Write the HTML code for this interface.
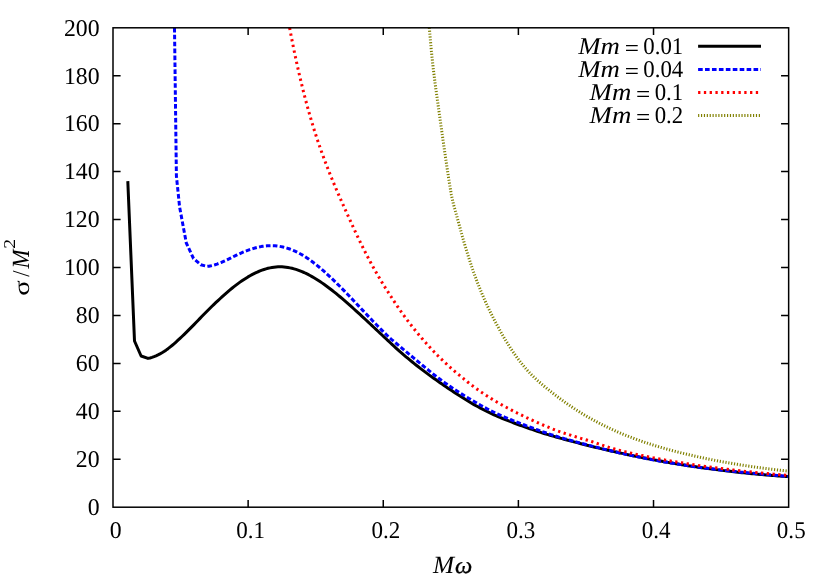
<!DOCTYPE html>
<html><head><meta charset="utf-8"><title>plot</title>
<style>
html,body{margin:0;padding:0;background:#fff;}
svg{display:block;will-change:transform;}
text{font-family:"Liberation Serif",serif;fill:#000;text-rendering:geometricPrecision;}
</style></head><body>
<svg width="830" height="581" viewBox="0 0 830 581">
<rect x="0" y="0" width="830" height="581" fill="#fff"/>
<clipPath id="c"><rect x="113.0" y="27.8" width="675.65" height="479.4"/></clipPath>
<g clip-path="url(#c)" fill="none" stroke-linejoin="round">
<path d="M127.80,181.10 L134.50,341.00 L141.10,356.00 L148.00,358.40 L150.00,357.94 L152.00,357.35 L154.00,356.64 L156.00,355.82 L158.00,354.89 L160.00,353.86 L162.00,352.72 L164.00,351.49 L166.00,350.14 L168.00,348.67 L170.00,347.12 L172.00,345.50 L174.00,343.80 L176.00,342.04 L178.00,340.22 L180.00,338.35 L182.00,336.49 L184.00,334.59 L186.00,332.65 L188.00,330.67 L190.00,328.66 L192.00,326.63 L194.00,324.58 L196.00,322.51 L198.00,320.43 L200.00,318.34 L202.00,316.31 L204.00,314.28 L206.00,312.26 L208.00,310.25 L210.00,308.26 L212.00,306.30 L214.00,304.36 L216.00,302.46 L218.00,300.59 L220.00,298.75 L222.00,296.90 L224.00,295.09 L226.00,293.32 L228.00,291.58 L230.00,289.89 L232.00,288.25 L234.00,286.65 L236.00,285.10 L238.00,283.61 L240.00,282.16 L242.00,280.77 L244.00,279.43 L246.00,278.15 L248.00,276.92 L250.00,275.76 L252.00,274.66 L254.00,273.63 L256.00,272.66 L258.00,271.76 L260.00,270.93 L262.00,270.16 L264.00,269.48 L266.00,268.86 L268.00,268.32 L270.00,267.86 L272.00,267.48 L274.00,267.19 L276.00,266.97 L278.00,266.84 L280.00,266.80 L282.00,266.84 L284.00,266.97 L286.00,267.18 L288.00,267.48 L290.00,267.85 L292.00,268.30 L294.00,268.83 L296.00,269.42 L298.00,270.09 L300.00,270.83 L302.00,271.63 L304.00,272.50 L306.00,273.43 L308.00,274.42 L310.00,275.47 L312.00,276.58 L314.00,277.74 L316.00,278.95 L318.00,280.21 L320.00,281.51 L322.00,282.87 L324.00,284.26 L326.00,285.70 L328.00,287.18 L330.00,288.69 L332.00,290.24 L334.00,291.82 L336.00,293.44 L338.00,295.08 L340.00,296.75 L342.00,298.44 L344.00,300.15 L346.00,301.89 L348.00,303.64 L350.00,305.41 L352.00,307.19 L354.00,308.99 L356.00,310.80 L358.00,312.62 L360.00,314.46 L362.00,316.30 L364.00,318.15 L366.00,320.01 L368.00,321.87 L370.00,323.74 L372.00,325.61 L374.00,327.49 L376.00,329.37 L378.00,331.25 L380.00,333.13 L382.00,335.01 L384.00,336.89 L386.00,338.76 L388.00,340.63 L390.00,342.49 L392.00,344.35 L394.00,346.20 L396.00,348.04 L398.00,349.88 L400.00,351.70 L402.00,353.41 L404.00,355.11 L406.00,356.79 L408.00,358.46 L410.00,360.11 L412.00,361.75 L414.00,363.36 L416.00,364.96 L418.00,366.54 L420.00,368.10 L422.00,369.63 L424.00,371.14 L426.00,372.65 L428.00,374.13 L430.00,375.59 L432.00,377.03 L434.00,378.45 L436.00,379.84 L438.00,381.28 L440.00,382.69 L442.00,384.09 L444.00,385.46 L446.00,386.81 L448.00,388.14 L450.00,389.50 L452.00,390.84 L454.00,392.16 L456.00,393.46 L458.00,394.73 L460.00,395.99 L462.00,397.28 L464.00,398.54 L466.00,399.79 L468.00,401.02 L470.00,402.23 L472.00,403.42 L474.00,404.59 L476.00,405.71 L478.00,406.80 L480.00,407.88 L482.00,408.94 L484.00,409.98 L486.00,411.00 L488.00,411.97 L490.00,412.92 L492.00,413.86 L494.00,414.77 L496.00,415.67 L498.00,416.56 L500.00,417.41 L502.00,418.24 L504.00,419.07 L506.00,419.87 L508.00,420.66 L510.00,421.44 L512.00,422.22 L514.00,422.99 L516.00,423.74 L518.00,424.49 L520.00,425.22 L522.00,425.93 L524.00,426.66 L526.00,427.37 L528.00,428.07 L530.00,428.77 L532.00,429.45 L534.00,430.12 L536.00,430.81 L538.00,431.48 L540.00,432.14 L542.00,432.80 L544.00,433.45 L546.00,434.09 L548.00,434.68 L550.00,435.26 L552.00,435.84 L554.00,436.41 L556.00,436.97 L558.00,437.53 L560.00,438.09 L562.00,438.64 L564.00,439.19 L566.00,439.74 L568.00,440.28 L570.00,440.81 L572.00,441.35 L574.00,441.87 L576.00,442.40 L578.00,442.92 L580.00,443.44 L582.00,443.95 L584.00,444.46 L586.00,444.96 L588.00,445.47 L590.00,445.96 L592.00,446.46 L594.00,446.95 L596.00,447.43 L598.00,447.91 L600.00,448.39 L602.00,448.87 L604.00,449.34 L606.00,449.80 L608.00,450.27 L610.00,450.72 L612.00,451.18 L614.00,451.63 L616.00,452.08 L618.00,452.52 L620.00,452.96 L622.00,453.40 L624.00,453.83 L626.00,454.26 L628.00,454.68 L630.00,455.10 L632.00,455.52 L634.00,455.93 L636.00,456.34 L638.00,456.74 L640.00,457.15 L642.00,457.54 L644.00,457.94 L646.00,458.33 L648.00,458.71 L650.00,459.10 L652.00,459.47 L654.00,459.85 L656.00,460.22 L658.00,460.59 L660.00,460.95 L662.00,461.31 L664.00,461.67 L666.00,462.02 L668.00,462.37 L670.00,462.71 L672.00,463.05 L674.00,463.39 L676.00,463.72 L678.00,464.05 L680.00,464.38 L682.00,464.70 L684.00,465.02 L686.00,465.34 L688.00,465.65 L690.00,465.95 L692.00,466.26 L694.00,466.56 L696.00,466.85 L698.00,467.15 L700.00,467.44 L702.00,467.72 L704.00,468.00 L706.00,468.28 L708.00,468.56 L710.00,468.83 L712.00,469.09 L714.00,469.36 L716.00,469.62 L718.00,469.87 L720.00,470.13 L722.00,470.37 L724.00,470.62 L726.00,470.86 L728.00,471.10 L730.00,471.33 L732.00,471.56 L734.00,471.79 L736.00,472.01 L738.00,472.23 L740.00,472.45 L742.00,472.66 L744.00,472.87 L746.00,473.08 L748.00,473.28 L750.00,473.48 L752.00,473.67 L754.00,473.86 L756.00,474.05 L758.00,474.23 L760.00,474.41 L762.00,474.59 L764.00,474.76 L766.00,474.93 L768.00,475.10 L770.00,475.26 L772.00,475.42 L774.00,475.58 L776.00,475.73 L778.00,475.88 L780.00,476.02 L782.00,476.16 L784.00,476.30 L786.00,476.44 L788.00,476.57 L788.50,476.60" stroke="#000" stroke-width="3.0"/>
<path d="M174.50,27.80 L176.40,176.00 L179.60,207.00 L186.30,243.00 L193.50,258.50 L200.80,264.80 L207.00,266.40 L209.00,266.16 L211.00,265.80 L213.00,265.33 L215.00,264.75 L217.00,264.09 L219.00,263.34 L221.00,262.53 L223.00,261.66 L225.00,260.74 L227.00,259.79 L229.00,258.82 L231.00,257.83 L233.00,256.85 L235.00,255.87 L237.00,254.91 L239.00,253.99 L241.00,253.09 L243.00,252.24 L245.00,251.41 L247.00,250.64 L249.00,249.90 L251.00,249.21 L253.00,248.58 L255.00,247.99 L257.00,247.47 L259.00,247.00 L261.00,246.60 L263.00,246.27 L265.00,246.00 L267.00,245.81 L269.00,245.69 L271.00,245.65 L273.00,245.69 L275.00,245.80 L277.00,245.99 L279.00,246.26 L281.00,246.61 L283.00,247.03 L285.00,247.53 L287.00,248.11 L289.00,248.76 L291.00,249.49 L293.00,250.29 L295.00,251.16 L297.00,252.11 L299.00,253.14 L301.00,254.24 L303.00,255.40 L305.00,256.64 L307.00,257.95 L309.00,259.32 L311.00,260.75 L313.00,262.23 L315.00,263.78 L317.00,265.37 L319.00,267.01 L321.00,268.70 L323.00,270.43 L325.00,272.21 L327.00,274.02 L329.00,275.86 L331.00,277.74 L333.00,279.65 L335.00,281.59 L337.00,283.56 L339.00,285.55 L341.00,287.57 L343.00,289.60 L345.00,291.66 L347.00,293.73 L349.00,295.81 L351.00,297.91 L353.00,300.02 L355.00,302.13 L357.00,304.25 L359.00,306.38 L361.00,308.50 L363.00,310.63 L365.00,312.75 L367.00,314.87 L369.00,316.98 L371.00,319.08 L373.00,321.17 L375.00,323.24 L377.00,325.31 L379.00,327.35 L381.00,329.37 L383.00,331.37 L385.00,333.35 L387.00,335.30 L389.00,337.23 L391.00,339.03 L393.00,340.72 L395.00,342.38 L397.00,344.03 L399.00,345.66 L401.00,347.33 L403.00,349.05 L405.00,350.75 L407.00,352.44 L409.00,354.13 L411.00,355.80 L413.00,357.47 L415.00,359.13 L417.00,360.78 L419.00,362.43 L421.00,364.08 L423.00,365.73 L425.00,367.37 L427.00,369.02 L429.00,370.65 L431.00,372.27 L433.00,373.87 L435.00,375.45 L437.00,377.00 L439.00,378.53 L441.00,380.02 L443.00,381.48 L445.00,382.91 L447.00,384.32 L449.00,385.71 L451.00,387.09 L453.00,388.44 L455.00,389.77 L457.00,391.07 L459.00,392.34 L461.00,393.61 L463.00,394.86 L465.00,396.09 L467.00,397.30 L469.00,398.48 L471.00,399.63 L473.00,400.77 L475.00,401.93 L477.00,403.12 L479.00,404.29 L481.00,405.43 L483.00,406.56 L485.00,407.66 L487.00,408.73 L489.00,409.77 L491.00,410.78 L493.00,411.77 L495.00,412.75 L497.00,413.71 L499.00,414.63 L501.00,415.53 L503.00,416.40 L505.00,417.26 L507.00,418.11 L509.00,418.94 L511.00,419.76 L513.00,420.58 L515.00,421.38 L517.00,422.17 L519.00,422.95 L521.00,423.72 L523.00,424.49 L525.00,425.26 L527.00,426.03 L529.00,426.79 L531.00,427.53 L533.00,428.27 L535.00,429.00 L537.00,429.71 L539.00,430.42 L541.00,431.13 L543.00,431.82 L545.00,432.51 L547.00,433.20 L549.00,433.87 L551.00,434.55 L553.00,435.21 L555.00,435.88 L557.00,436.53 L559.00,437.15 L561.00,437.72 L563.00,438.28 L565.00,438.85 L567.00,439.41 L569.00,439.96 L571.00,440.51 L573.00,441.06 L575.00,441.61 L577.00,442.15 L579.00,442.69 L581.00,443.23 L583.00,443.76 L585.00,444.29 L587.00,444.81 L589.00,445.34 L591.00,445.85 L593.00,446.37 L595.00,446.88 L597.00,447.38 L599.00,447.89 L601.00,448.38 L603.00,448.88 L605.00,449.37 L607.00,449.86 L609.00,450.34 L611.00,450.82 L613.00,451.29 L615.00,451.76 L617.00,452.23 L619.00,452.69 L621.00,453.14 L623.00,453.60 L625.00,454.04 L627.00,454.49 L629.00,454.93 L631.00,455.36 L633.00,455.79 L635.00,456.21 L637.00,456.63 L639.00,457.05 L641.00,457.46 L643.00,457.87 L645.00,458.27 L647.00,458.66 L649.00,459.06 L651.00,459.44 L653.00,459.82 L655.00,460.20 L657.00,460.57 L659.00,460.94 L661.00,461.30 L663.00,461.65 L665.00,462.00 L667.00,462.35 L669.00,462.69 L671.00,463.02 L673.00,463.35 L675.00,463.68 L677.00,464.00 L679.00,464.31 L681.00,464.63 L683.00,464.93 L685.00,465.23 L687.00,465.53 L689.00,465.82 L691.00,466.11 L693.00,466.40 L695.00,466.68 L697.00,466.95 L699.00,467.23 L701.00,467.50 L703.00,467.76 L705.00,468.02 L707.00,468.28 L709.00,468.53 L711.00,468.78 L713.00,469.03 L715.00,469.27 L717.00,469.51 L719.00,469.75 L721.00,469.98 L723.00,470.21 L725.00,470.44 L727.00,470.66 L729.00,470.88 L731.00,471.10 L733.00,471.32 L735.00,471.53 L737.00,471.74 L739.00,471.95 L741.00,472.15 L743.00,472.36 L745.00,472.56 L747.00,472.76 L749.00,472.95 L751.00,473.15 L753.00,473.34 L755.00,473.53 L757.00,473.72 L759.00,473.90 L761.00,474.09 L763.00,474.27 L765.00,474.46 L767.00,474.64 L769.00,474.81 L771.00,474.99 L773.00,475.17 L775.00,475.34 L777.00,475.52 L779.00,475.69 L781.00,475.86 L783.00,476.03 L785.00,476.20 L787.00,476.37 L788.50,476.50" stroke="#0000ff" stroke-width="3.0" stroke-dasharray="4.62 2.31"/>
<path d="M289.60,27.80 L291.60,38.23 L293.60,48.22 L295.60,57.79 L297.60,66.96 L299.60,75.75 L301.60,84.17 L303.60,92.23 L305.60,99.97 L307.60,107.39 L309.60,114.51 L311.60,121.34 L313.60,127.92 L315.60,134.25 L317.60,140.35 L319.60,146.23 L321.60,151.92 L323.60,157.44 L325.60,162.79 L327.60,168.00 L329.60,173.08 L331.60,178.03 L333.60,182.88 L335.60,187.63 L337.60,192.31 L339.60,196.92 L341.60,201.47 L343.60,205.98 L345.60,210.46 L347.60,214.91 L349.60,219.33 L351.60,223.71 L353.60,228.06 L355.60,232.35 L357.60,236.59 L359.60,240.76 L361.60,244.87 L363.60,248.90 L365.60,252.86 L367.60,256.73 L369.60,260.52 L371.60,264.23 L373.60,267.87 L375.60,271.43 L377.60,274.92 L379.60,278.33 L381.60,281.68 L383.60,284.96 L385.60,288.17 L387.60,291.32 L389.60,294.40 L391.60,297.52 L393.60,300.60 L395.60,303.62 L397.60,306.59 L399.60,309.50 L401.60,312.34 L403.60,315.13 L405.60,317.87 L407.60,320.56 L409.60,323.20 L411.60,325.79 L413.60,328.32 L415.60,330.80 L417.60,333.24 L419.60,335.63 L421.60,338.00 L423.60,340.32 L425.60,342.59 L427.60,344.82 L429.60,347.02 L431.60,349.18 L433.60,351.32 L435.60,353.42 L437.60,355.44 L439.60,357.42 L441.60,359.36 L443.60,361.28 L445.60,363.17 L447.60,365.03 L449.60,366.83 L451.60,368.59 L453.60,370.33 L455.60,372.04 L457.60,373.72 L459.60,375.38 L461.60,377.05 L463.60,378.72 L465.60,380.35 L467.60,381.96 L469.60,383.55 L471.60,385.10 L473.60,386.63 L475.60,388.11 L477.60,389.55 L479.60,390.97 L481.60,392.36 L483.60,393.73 L485.60,395.07 L487.60,396.36 L489.60,397.62 L491.60,398.86 L493.60,400.07 L495.60,401.26 L497.60,402.43 L499.60,403.59 L501.60,404.73 L503.60,405.85 L505.60,406.95 L507.60,408.02 L509.60,409.08 L511.60,410.14 L513.60,411.19 L515.60,412.22 L517.60,413.23 L519.60,414.22 L521.60,415.19 L523.60,416.17 L525.60,417.13 L527.60,418.09 L529.60,419.02 L531.60,419.93 L533.60,420.83 L535.60,421.74 L537.60,422.64 L539.60,423.53 L541.60,424.40 L543.60,425.25 L545.60,426.09 L547.60,426.93 L549.60,427.76 L551.60,428.57 L553.60,429.37 L555.60,430.16 L557.60,430.93 L559.60,431.63 L561.60,432.29 L563.60,432.95 L565.60,433.59 L567.60,434.23 L569.60,434.85 L571.60,435.49 L573.60,436.12 L575.60,436.75 L577.60,437.36 L579.60,437.97 L581.60,438.57 L583.60,439.14 L585.60,439.71 L587.60,440.29 L589.60,440.89 L591.60,441.53 L593.60,442.19 L595.60,442.89 L597.60,443.60 L599.60,444.27 L601.60,444.95 L603.60,445.62 L605.60,446.29 L607.60,446.96 L609.60,447.61 L611.60,448.22 L613.60,448.79 L615.60,449.34 L617.60,449.85 L619.60,450.34 L621.60,450.80 L623.60,451.32 L625.60,451.84 L627.60,452.34 L629.60,452.82 L631.60,453.28 L633.60,453.74 L635.60,454.18 L637.60,454.61 L639.60,455.04 L641.60,455.46 L643.60,455.88 L645.60,456.29 L647.60,456.69 L649.60,457.09 L651.60,457.49 L653.60,457.88 L655.60,458.26 L657.60,458.64 L659.60,459.02 L661.60,459.39 L663.60,459.75 L665.60,460.11 L667.60,460.47 L669.60,460.82 L671.60,461.17 L673.60,461.51 L675.60,461.85 L677.60,462.18 L679.60,462.51 L681.60,462.84 L683.60,463.16 L685.60,463.48 L687.60,463.79 L689.60,464.11 L691.60,464.41 L693.60,464.72 L695.60,465.02 L697.60,465.31 L699.60,465.61 L701.60,465.90 L703.60,466.18 L705.60,466.46 L707.60,466.74 L709.60,467.02 L711.60,467.29 L713.60,467.56 L715.60,467.82 L717.60,468.08 L719.60,468.34 L721.60,468.60 L723.60,468.85 L725.60,469.10 L727.60,469.34 L729.60,469.58 L731.60,469.82 L733.60,470.06 L735.60,470.29 L737.60,470.52 L739.60,470.75 L741.60,470.97 L743.60,471.19 L745.60,471.41 L747.60,471.62 L749.60,471.83 L751.60,472.04 L753.60,472.25 L755.60,472.45 L757.60,472.65 L759.60,472.85 L761.60,473.04 L763.60,473.23 L765.60,473.42 L767.60,473.61 L769.60,473.79 L771.60,473.97 L773.60,474.15 L775.60,474.33 L777.60,474.50 L779.60,474.67 L781.60,474.84 L783.60,475.00 L785.60,475.17 L787.60,475.33 L788.50,475.40" stroke="#ff0000" stroke-width="3.0" stroke-dasharray="2.31 3.46"/>
<path d="M429.30,27.80 L431.30,50.28 L433.30,68.90 L435.30,84.86 L437.30,99.39 L439.30,113.63 L441.30,127.91 L443.30,142.02 L445.30,155.86 L447.30,169.37 L449.30,182.46 L451.30,194.37 L453.30,203.67 L455.30,210.82 L457.30,217.94 L459.30,225.25 L461.30,232.56 L463.30,239.67 L465.30,246.53 L467.30,253.13 L469.30,259.46 L471.30,265.51 L473.30,271.31 L475.30,276.85 L477.30,282.16 L479.30,287.26 L481.30,292.14 L483.30,296.84 L485.30,301.36 L487.30,305.72 L489.30,309.93 L491.30,314.02 L493.30,317.98 L495.30,321.85 L497.30,325.62 L499.30,329.29 L501.30,332.87 L503.30,336.35 L505.30,339.73 L507.30,343.02 L509.30,346.20 L511.30,349.28 L513.30,352.27 L515.30,355.15 L517.30,357.92 L519.30,360.60 L521.30,363.17 L523.30,365.63 L525.30,367.99 L527.30,370.25 L529.30,372.41 L531.30,374.48 L533.30,376.48 L535.30,378.40 L537.30,380.25 L539.30,382.05 L541.30,383.79 L543.30,385.49 L545.30,387.15 L547.30,388.78 L549.30,390.39 L551.30,391.97 L553.30,393.54 L555.30,395.08 L557.30,396.60 L559.30,398.10 L561.30,399.58 L563.30,401.04 L565.30,402.47 L567.30,403.88 L569.30,405.27 L571.30,406.63 L573.30,407.97 L575.30,409.28 L577.30,410.57 L579.30,411.83 L581.30,413.07 L583.30,414.29 L585.30,415.48 L587.30,416.65 L589.30,417.80 L591.30,418.92 L593.30,420.03 L595.30,421.11 L597.30,422.18 L599.30,423.22 L601.30,424.24 L603.30,425.25 L605.30,426.23 L607.30,427.20 L609.30,428.14 L611.30,429.07 L613.30,429.98 L615.30,430.88 L617.30,431.76 L619.30,432.62 L621.30,433.47 L623.30,434.30 L625.30,435.11 L627.30,435.91 L629.30,436.70 L631.30,437.47 L633.30,438.22 L635.30,438.97 L637.30,439.70 L639.30,440.41 L641.30,441.12 L643.30,441.81 L645.30,442.49 L647.30,443.15 L649.30,443.81 L651.30,444.45 L653.30,445.08 L655.30,445.70 L657.30,446.31 L659.30,446.91 L661.30,447.50 L663.30,448.08 L665.30,448.64 L667.30,449.20 L669.30,449.75 L671.30,450.30 L673.30,450.83 L675.30,451.35 L677.30,451.87 L679.30,452.38 L681.30,452.88 L683.30,453.37 L685.30,453.86 L687.30,454.34 L689.30,454.81 L691.30,455.28 L693.30,455.74 L695.30,456.20 L697.30,456.65 L699.30,457.09 L701.30,457.52 L703.30,457.95 L705.30,458.38 L707.30,458.79 L709.30,459.20 L711.30,459.61 L713.30,460.01 L715.30,460.40 L717.30,460.79 L719.30,461.17 L721.30,461.55 L723.30,461.92 L725.30,462.28 L727.30,462.64 L729.30,462.99 L731.30,463.34 L733.30,463.68 L735.30,464.02 L737.30,464.35 L739.30,464.67 L741.30,464.99 L743.30,465.31 L745.30,465.62 L747.30,465.92 L749.30,466.22 L751.30,466.52 L753.30,466.80 L755.30,467.09 L757.30,467.37 L759.30,467.64 L761.30,467.91 L763.30,468.17 L765.30,468.43 L767.30,468.69 L769.30,468.94 L771.30,469.18 L773.30,469.42 L775.30,469.66 L777.30,469.89 L779.30,470.12 L781.30,470.34 L783.30,470.55 L785.30,470.77 L787.30,470.98 L788.50,471.10" stroke="#808000" stroke-width="3.0" stroke-dasharray="1.16 1.73"/>
</g>
<g stroke="#000" stroke-width="1.5" fill="none">
<path d="M113.0,459.26h7.6M788.65,459.26h-7.6M113.0,411.32h7.6M788.65,411.32h-7.6M113.0,363.38h7.6M788.65,363.38h-7.6M113.0,315.44h7.6M788.65,315.44h-7.6M113.0,267.50h7.6M788.65,267.50h-7.6M113.0,219.56h7.6M788.65,219.56h-7.6M113.0,171.62h7.6M788.65,171.62h-7.6M113.0,123.68h7.6M788.65,123.68h-7.6M113.0,75.74h7.6M788.65,75.74h-7.6M248.13,507.2v-7.1M248.13,27.8v7.1M383.26,507.2v-7.1M383.26,27.8v7.1M518.39,507.2v-7.1M518.39,27.8v7.1M653.52,507.2v-7.1M653.52,27.8v7.1" stroke-width="1.5"/>
<rect x="113.0" y="27.8" width="675.65" height="479.4" stroke-width="1.5"/>
</g>
<text transform="translate(99.60,515.00) scale(0.99,1.0)" text-anchor="end" font-size="24.0">0</text>
<text transform="translate(99.60,467.06) scale(0.99,1.0)" text-anchor="end" font-size="24.0">20</text>
<text transform="translate(99.60,419.12) scale(0.99,1.0)" text-anchor="end" font-size="24.0">40</text>
<text transform="translate(99.60,371.18) scale(0.99,1.0)" text-anchor="end" font-size="24.0">60</text>
<text transform="translate(99.60,323.24) scale(0.99,1.0)" text-anchor="end" font-size="24.0">80</text>
<text transform="translate(99.60,275.30) scale(0.99,1.0)" text-anchor="end" font-size="24.0">100</text>
<text transform="translate(99.60,227.36) scale(0.99,1.0)" text-anchor="end" font-size="24.0">120</text>
<text transform="translate(99.60,179.42) scale(0.99,1.0)" text-anchor="end" font-size="24.0">140</text>
<text transform="translate(99.60,131.48) scale(0.99,1.0)" text-anchor="end" font-size="24.0">160</text>
<text transform="translate(99.60,83.54) scale(0.99,1.0)" text-anchor="end" font-size="24.0">180</text>
<text transform="translate(99.60,35.60) scale(0.99,1.0)" text-anchor="end" font-size="24.0">200</text>
<text transform="translate(115.60,538.10) scale(0.99,1.0)" text-anchor="middle" font-size="24.0">0</text>
<text transform="translate(250.73,538.10) scale(0.96,1.0)" text-anchor="middle" font-size="24.0">0.1</text>
<text transform="translate(385.86,538.10) scale(0.96,1.0)" text-anchor="middle" font-size="24.0">0.2</text>
<text transform="translate(520.99,538.10) scale(0.96,1.0)" text-anchor="middle" font-size="24.0">0.3</text>
<text transform="translate(656.12,538.10) scale(0.96,1.0)" text-anchor="middle" font-size="24.0">0.4</text>
<text transform="translate(791.25,538.10) scale(0.96,1.0)" text-anchor="middle" font-size="24.0">0.5</text>
<text transform="translate(433.00,572.80) scale(1.056,1.03)" text-anchor="start" font-size="24" font-style="italic">M</text>
<text stroke="#000" stroke-width="0.35" transform="translate(455.00,572.80) scale(1.02,0.97)" text-anchor="start" font-size="24" font-style="italic">ω</text>
<g transform="translate(29.0,295.0) rotate(-90)">
<text transform="translate(-0.80,0.00) scale(1.19,0.94)" text-anchor="start" font-size="24">σ</text>
<text transform="translate(18.20,0.00) scale(0.93,1.01)" text-anchor="start" font-size="24">/</text>
<text transform="translate(26.60,0.00) scale(0.953,1.03)" text-anchor="start" font-size="24" font-style="italic">M</text>
<text transform="translate(46.30,-13.60) scale(1.2,1.0)" text-anchor="start" font-size="16.5">2</text>
</g>
<text transform="translate(683.20,54.00) scale(0.95,1.0)" text-anchor="end" font-size="24.0">0.01</text>
<text transform="translate(624.70,55.85) scale(1.05,1.0)" text-anchor="start" font-size="24.0">=</text>
<text transform="translate(578.20,53.85) scale(1.117,1.01)" text-anchor="start" font-size="24" font-style="italic">Mm</text>
<path d="M698.1,46.35H761" stroke="#000" stroke-width="3.0" fill="none"/>
<text transform="translate(683.20,77.05) scale(0.95,1.0)" text-anchor="end" font-size="24.0">0.04</text>
<text transform="translate(624.70,78.90) scale(1.05,1.0)" text-anchor="start" font-size="24.0">=</text>
<text transform="translate(578.20,76.90) scale(1.117,1.01)" text-anchor="start" font-size="24" font-style="italic">Mm</text>
<path d="M698.1,69.4H761" stroke="#0000ff" stroke-width="3.0" fill="none" stroke-dasharray="4.62 2.31"/>
<text transform="translate(683.20,100.05) scale(0.95,1.0)" text-anchor="end" font-size="24.0">0.1</text>
<text transform="translate(636.10,101.90) scale(1.05,1.0)" text-anchor="start" font-size="24.0">=</text>
<text transform="translate(589.60,99.90) scale(1.117,1.01)" text-anchor="start" font-size="24" font-style="italic">Mm</text>
<path d="M698.1,92.4H761" stroke="#ff0000" stroke-width="3.0" fill="none" stroke-dasharray="2.31 3.46"/>
<text transform="translate(683.20,123.15) scale(0.95,1.0)" text-anchor="end" font-size="24.0">0.2</text>
<text transform="translate(636.10,125.00) scale(1.05,1.0)" text-anchor="start" font-size="24.0">=</text>
<text transform="translate(589.60,123.00) scale(1.117,1.01)" text-anchor="start" font-size="24" font-style="italic">Mm</text>
<path d="M698.1,115.5H761" stroke="#808000" stroke-width="3.0" fill="none" stroke-dasharray="1.16 1.73"/>
</svg>
</body></html>
